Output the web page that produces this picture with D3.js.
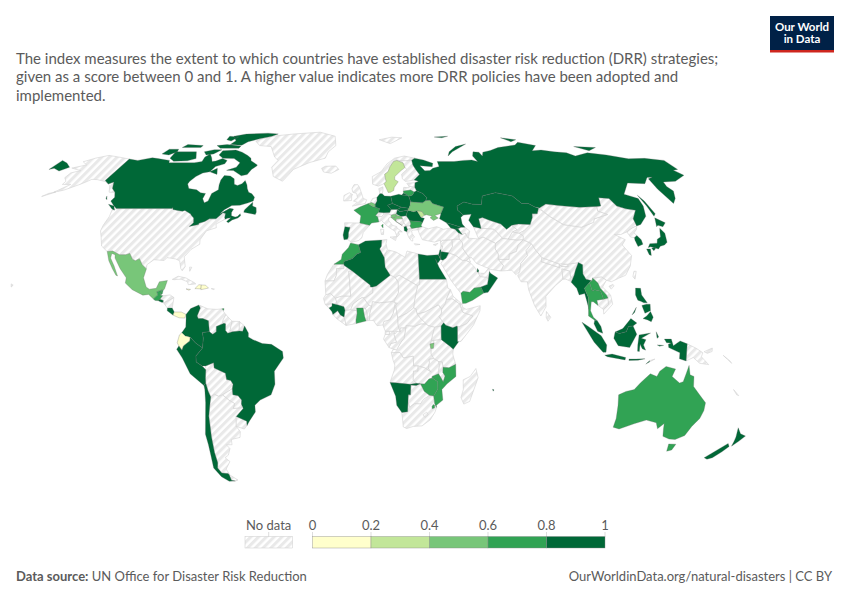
<!DOCTYPE html>
<html>
<head>
<meta charset="utf-8">
<script src="https://cdn.jsdelivr.net/npm/d3@7"></script>
<style>
  html, body { margin: 0; padding: 0; background: #fff; }
  svg { display: block; font-family: Lato, sans-serif; }
</style>
</head>
<body>
<div id="chart"></div>
<script>
const titleLines = [
  'The index measures the extent to which countries have established disaster risk reduction (DRR) strategies;',
  'given as a score between 0 and 1. A higher value indicates more DRR policies have been adopted and',
  'implemented.'
];
const binEdges = [0.2, 0.4, 0.6, 0.8];
const binColors = ['#ffffcc', '#c2e699', '#78c679', '#31a354', '#006837'];
const legendTicks = [0, 0.2, 0.4, 0.6, 0.8, 1];

// scores, read off the colour bins of the map. anything not listed is "No data"
const countryScores = [
  ['Canada', 0.9], ['Mexico', 0.5], ['Guatemala', 0.7], ['Belize', 0.7], ['El Salvador', 0.9], ['Costa Rica', 0.9],
  ['Panama', 0.1], ['Jamaica', 0.1], ['Haiti', 0.1], ['Dominican Republic', 0.1], ['Trinidad', 0.7],
  ['Colombia', 0.9], ['Ecuador', 0.1], ['Peru', 0.9], ['Brazil', 0.9], ['Chile', 0.9],
  ['Sweden', 0.3], ['France', 0.7], ['Belgium', 0.5], ['Portugal', 0.9], ['Germany', 0.9], ['Poland', 0.9],
  ['Czechia', 0.9], ['Slovakia', 0.9], ['Hungary', 0.9], ['Slovenia', 0.5], ['Croatia', 0.5], ['Romania', 0.9],
  ['Bulgaria', 0.7], ['Albania', 0.9], ['Moldova', 0.3], ['Ukraine', 0.5], ['Belarus', 0.9], ['Lithuania', 0.7],
  ['Russia', 0.9], ['Kazakhstan', 0.9], ['Georgia', 0.9], ['Armenia', 0.9],
  ['Morocco', 0.7], ['Algeria', 0.9], ['Egypt', 0.9], ['Guinea', 0.9], ['Ghana', 0.7], ['Kenya', 0.9],
  ['Burundi', 0.5], ['Namibia', 0.9], ['Zimbabwe', 0.7], ['Mozambique', 0.7], ['Eswatini', 0.7], ['Mauritius', 0.9],
  ['Jordan', 0.9], ['Israel', 0.9], ['Qatar', 0.9], ['Oman', 0.9], ['Yemen', 0.7],
  ['South Korea', 0.9], ['Japan', 0.9], ['Myanmar', 0.9], ['Thailand', 0.7], ['Laos', 0.7], ['Malaysia', 0.9], ['Indonesia', 0.9],
  ['Philippines', 0.9], ['Australia', 0.7], ['New Zealand', 0.9]
];

// rough country outlines as "lon,lat lon,lat ..." rings
const countryOutlines = [
  ['Canada',
    '-123,49 -115,49 -105,49 -95.2,49 -95.15,49.4 -94.6,48.7 -92,48.3 -89.5,48 -88.4,48.3 -84.8,46.9 -84.1,46.3 -82.5,45.3 -81.7,43.5 -82.5,42.6 -83.1,42.1 -79,42.8 -79,43.3 -76.5,44 -74.7,45 -71.5,45 -70.3,46.2 -69.2,47.4 -67.8,47.1 -67.5,45.5 -67,44.9 -66,45.2 -64.5,45.4 -66,44 -65,43.5 -63.5,44.6 -61,45.3 -60,46.2 -60.5,47 -61.5,45.9 -62.5,45.7 -64.5,46.2 -65,47.5 -64.5,48.8 -66.5,49.1 -70.5,47 -69,48.6 -67,49.6 -66,50.2 -62,50.3 -58.5,51.2 -56,52 -56,53.5 -58,54.9 -60,55.5 -61.5,57 -62.5,58.5 -64.5,60.3 -65.5,59 -67.5,58.3 -69.5,58.8 -71,61 -74,62.2 -77.5,62.4 -78,60.5 -77.5,58.5 -76.5,56.5 -79,55 -79,52 -80.5,51.3 -82.3,52.9 -82.2,55 -85,55.3 -88,56.5 -92.5,57 -94.7,58.9 -94.5,60 -93,62 -90.5,63.5 -87,64 -85.8,66.3 -81.5,67.5 -81.5,69 -85,69.8 -88,68.7 -90,68.5 -92,70.2 -95,72 -96.5,70.5 -96,68.5 -100,68 -108,68 -115,68 -116,69 -124,69.8 -128,70.2 -135,69 -141,69.6 -141,60.3 -137.5,58.9 -135.5,59.7 -133,57 -130,55.5 -128,53.5 -128.5,52 -125,50',
    '-62,66.5 -64,65 -65,62.8 -68,62.3 -72,63.8 -74,64.5 -78,64.6 -73.5,66 -73,68 -78,69.8 -85,70 -89,71.5 -89,73.5 -81,73.8 -76,72.8 -71,71.2 -68,70 -67,68.8 -62,67',
    '-105,73 -118,73 -117,70 -113,68.6 -105,68.8 -101,69.8',
    '-125,72 -120,71.5 -117,73 -118,74.2 -124,74.2',
    '-62,82.5 -70,83 -85,82.4 -92,81 -87,78.5 -88,76.5 -80,76.2 -78,78 -72,79.5 -65,81',
    '-80,75.8 -90,76.5 -96,76 -92,74.7 -80,74.7',
    '-90,73.9 -95,74 -100,73 -97,71.5 -93,72',
    '-105,76 -116,76.5 -117,75 -105,75',
    '-88,80.5 -95,81 -94,79 -90,78.3',
    '-59,47.6 -53,46.7 -52.8,47.6 -53.5,49.4 -55.5,50 -56,51.5 -57.5,50 -59,48.5',
    '-128.4,50.7 -125,50 -123.4,48.4 -125,48.8',
    '-84,65.5 -87,64 -82,62.9',
    '-132.5,54 -131,52.5 -132,53'],
  ['United States',
    '-123,49 -124.7,48.4 -124,46 -124.5,42.5 -124.3,40.4 -122.5,37.8 -120.6,34.6 -117.1,32.5 -114.7,32.7 -111,31.3 -108.2,31.3 -106.5,31.8 -104.5,29.6 -103,29 -101.4,29.8 -99.5,27.5 -97.2,25.9 -97.4,27.5 -94.7,29.4 -90,29.1 -89,30.2 -85,29.7 -83,29 -81.8,26 -81,25.2 -80,26.8 -81.3,30.5 -79,33.3 -75.6,35.3 -76,37 -74.2,40.4 -70,41.6 -70.7,43 -67,44.9 -67.5,45.5 -67.8,47.1 -69.2,47.4 -70.3,46.2 -71.5,45 -74.7,45 -76.5,44 -79,43.3 -79,42.8 -83.1,42.1 -82.5,42.6 -81.7,43.5 -82.5,45.3 -84.1,46.3 -84.8,46.9 -88.4,48.3 -89.5,48 -92,48.3 -94.6,48.7 -95.15,49.4 -95.2,49 -105,49 -115,49',
    '-141,69.6 -148,70.4 -156.5,71.3 -162,70 -166.5,68.4 -162,67 -164,66.5 -168,65.6 -161,64.5 -165,63.5 -165,61.5 -162,60 -162,58.7 -157.5,58.7 -162,55.5 -158,56.3 -153,58.5 -151,59.5 -149,60.8 -146,60.7 -140,59.8 -136,58.3 -133,55.5 -130,55.5 -133,57 -135.5,59.7 -137.5,58.9 -141,60.3',
    '-161,55.6 -166,53.8 -164,55',
    '-156,20.2 -155,19.7 -155.7,19'],
  ['Mexico',
    '-117.1,32.5 -114.7,32.7 -111,31.3 -108.2,31.3 -106.5,31.8 -104.5,29.6 -103,29 -101.4,29.8 -99.5,27.5 -97.2,25.9 -97.8,22.5 -96,19 -94.5,18.2 -91.5,18.5 -90.5,21 -87,21.5 -87.8,18.3 -88.3,17.8 -89.15,17.8 -91,17.2 -90.5,16 -92.2,14.5 -94.5,16.2 -97,15.9 -102,18 -105.5,20.5 -105.5,22.5 -109,26 -112.5,30 -113,31.3 -114.7,31.8 -114.5,30 -112,27 -109.5,23.2 -110.3,23.5 -112.5,26 -115,29'],
  ['Guatemala', '-92.2,14.5 -90.5,16 -91,17.2 -89.15,17.8 -89.2,15.9 -88.2,15.7 -89.3,14.4 -90,13.8 -91.4,13.9'],
  ['Belize', '-88.3,17.8 -89.15,17.8 -89.2,15.9 -88.5,16.5'],
  ['El Salvador', '-90,13.8 -89.3,14.4 -87.8,13.9 -87.8,13.2 -88.5,13.2'],
  ['Honduras', '-89.2,15.9 -88.2,15.7 -85,16 -83.2,15 -85,14 -87.3,13 -87.8,13.2 -87.8,13.9 -89.3,14.4'],
  ['Nicaragua', '-83.2,15 -83.6,11 -85.7,11 -87.6,13 -87.3,13 -85,14'],
  ['Costa Rica', '-83.6,11 -82.6,9.5 -83,8.3 -85.7,10 -85.7,11'],
  ['Panama', '-82.6,9.5 -79.5,9.5 -77.4,8.6 -77.9,7.2 -80.4,7.3 -83,8.3'],
  ['Cuba', '-84.9,21.9 -82.5,23.1 -79,22.5 -75,20.7 -74.2,20.2 -77.5,19.9 -78,21 -81,22 -84,21.8'],
  ['Haiti', '-74.4,18.4 -72.8,19.9 -71.7,19.8 -71.7,18.3'],
  ['Dominican Republic', '-71.7,19.8 -69.8,19.7 -68.4,18.6 -71.7,18'],
  ['Jamaica', '-78.3,18.3 -76.3,18.1 -77,17.8'],
  ['Puerto Rico', '-67.2,18.4 -65.7,18.3 -66,18'],
  ['Bahamas', '-78,26.6 -77,26.5 -77.6,25'],
  ['Trinidad', '-61.9,10.7 -60.9,10.8 -61,10.1'],
  ['Greenland', '-73,78.2 -68,76 -60,75.5 -54,70.5 -51,69 -53,66 -50,62 -44,60 -42,62.5 -40,65 -32,68 -23,70 -22,73 -18,76 -20,81 -32,83.6 -50,82.5 -65,81 -72,79'],
  ['Colombia', '-77.4,8.6 -75.5,10.8 -72,12.2 -71.3,11 -72.5,8 -72,7 -70,7 -67.5,6.2 -67,2 -70,1.7 -69.6,-0.5 -70,-4.2 -73,-2.3 -75.3,-0.1 -77.5,0.4 -79,1.6 -77.3,3.8 -77.3,7'],
  ['Venezuela', '-71.3,11 -71.5,12 -68,10.7 -64,10.5 -62,10.7 -60,8.5 -61,6.8 -61.3,5.5 -60.7,5.2 -64,4 -64,2 -65.5,1 -67,2 -67.5,6.2 -70,7 -72,7 -72.5,8'],
  ['Guyana', '-60,8.5 -57.2,6 -58,2.5 -57,2 -59,1.4 -60,2.5 -60,5 -60.7,5.2 -61.3,5.5 -61,6.8'],
  ['Suriname', '-57.2,6 -54,5.9 -54,2.3 -57,2 -58,2.5'],
  ['French Guiana', '-54,5.9 -51.7,4.2 -52.5,2.2 -54,2.3'],
  ['Ecuador', '-80.3,-3.4 -81,-2.2 -80,0.8 -79,1.6 -77.5,0.4 -75.3,-0.1 -75.5,-1.5 -78.3,-3.4 -79,-5'],
  ['Peru', '-81.3,-4.7 -80.3,-3.4 -79,-5 -78.3,-3.4 -75.5,-1.5 -75.3,-0.1 -73,-2.3 -70,-4.2 -73,-7.2 -73,-9.5 -70.5,-11 -69,-12.5 -69.4,-15.5 -69.5,-17.5 -70.4,-18.4 -76,-14 -79,-8'],
  ['Brazil', '-51.7,4.2 -50,1.5 -50,0 -48,-1 -44,-2.5 -40,-2.8 -35.2,-5.5 -34.9,-8 -39,-13 -39,-18 -41,-22 -46,-24 -48.6,-26 -48.7,-28.5 -52,-32 -53.4,-33.7 -53.2,-32 -57.6,-30.2 -54,-27.2 -54.6,-25.5 -54.3,-24 -55.7,-22.3 -58,-22 -58,-19.7 -57.5,-18 -58.4,-16.5 -60.2,-16.2 -60.5,-13.8 -65.3,-11.8 -65.4,-9.8 -69,-11 -70.5,-11 -73,-9.5 -73,-7.2 -70,-4.2 -69.6,-0.5 -70,1.7 -67,2 -65.5,1 -64,2 -64,4 -60.7,5.2 -60,5 -60,2.5 -59,1.4 -57,2 -54,2.3 -52.5,2.2'],
  ['Bolivia', '-69,-11 -65.4,-9.8 -65.3,-11.8 -60.5,-13.8 -60.2,-16.2 -58.4,-16.5 -57.5,-18 -58,-19.7 -62.6,-22 -64.3,-22.6 -66.2,-21.8 -67.9,-22.8 -68.8,-20.5 -69.5,-17.5 -69.4,-15.5 -69,-12.5'],
  ['Paraguay', '-58,-19.7 -58,-22 -55.7,-22.3 -54.3,-24 -54.6,-25.5 -54.7,-27 -58.5,-27.2 -57.6,-25.3 -60,-24 -62.6,-22'],
  ['Chile',
    '-70.4,-18.4 -69.5,-17.5 -68.8,-20.5 -67.9,-22.8 -68.5,-25 -70,-30 -70.3,-33 -71,-38 -71.8,-44 -72,-48 -73,-50 -72,-52 -69,-52.2 -68.6,-52.6 -68.6,-54.9 -66.8,-55.2 -70,-55.3 -73,-53.5 -75,-50 -74,-45 -73.5,-41 -73.5,-37 -71.5,-30 -70.5,-25 -70.2,-20'],
  ['Argentina',
    '-66.2,-21.8 -64.3,-22.6 -62.6,-22 -60,-24 -57.6,-25.3 -58.5,-27.2 -54.7,-27 -54,-27.2 -57.6,-30.2 -58.4,-34 -57,-36 -57.7,-38.2 -62,-39 -62.3,-41 -65,-41 -63.8,-42.5 -65.5,-45 -67.5,-46 -65.8,-47.5 -69,-50.5 -68.4,-52.3 -69,-52.2 -72,-52 -73,-50 -72,-48 -71.8,-44 -71,-38 -70.3,-33 -70,-30 -68.5,-25 -67.9,-22.8',
    '-68.6,-52.6 -65.2,-54.8 -66.8,-55.2 -68.6,-54.9'],
  ['Uruguay', '-57.6,-30.2 -53.2,-32 -53.4,-33.7 -54.9,-35 -58.4,-34'],

  ['Iceland', '-24,65.5 -22,66.4 -16,66.5 -14,65 -18,63.4 -22.5,63.9'],
  ['Svalbard', '11,79 20,80.4 27,80 18,77'],
  ['Norway', '5,58.8 5,62 10,64 14,67.5 19,70 25,71 31,70 29,69.1 25,68.8 21,69 20,69 18,68.5 15.5,66.2 14,64 12,63 12.2,61 12.5,60 11.2,59 8,58'],
  ['Sweden', '11.2,59 12.5,60 12.2,61 12,63 14,64 15.5,66.2 18,68.5 20,69 23.5,67.9 24,65.8 21.5,64.5 17.5,62 17.2,60.7 19,59.8 16.5,57.5 16,56.2 14.3,55.5 13,55.4 12.5,56.5'],
  ['Finland', '24,65.8 23.5,67.9 20,69 21,69 25,68.8 29,69.1 29,67 30,65 31.5,62.9 27.8,60.5 23,59.9 21.5,61 21.5,63 25,65'],
  ['Denmark', '8.2,57 10.5,57.7 10.3,56 9.8,54.9 8.6,54.9'],
  ['United Kingdom', '-5,58.6 -3,58.6 -2,57.5 0,53 1.7,52.5 1,51 -5.5,50 -3,51.5 -5,52 -3,53.4 -3.5,55 -5.5,55.5 -6,57'],
  ['Ireland', '-10,52 -6,52.2 -6,54 -5.6,54.6 -7.3,55.3 -10,54.2'],
  ['France', '2.5,51 -1.5,49.7 -4.7,48.4 -1.2,46.2 -1.7,43.4 3,42.5 4,43.4 7.5,43.8 7,45.8 6,46.3 7.5,47.6 8.2,49 6,49.5 4.2,50', '8.6,42.4 9.5,43 9.4,41.5'],
  ['Spain', '-9,43.5 -1.7,43.4 3,42.5 0,39.8 -0.7,37.7 -2.2,36.7 -5.5,36 -7.4,37.2 -7,38 -7,39.7 -6.3,41.7 -8.8,42'],
  ['Portugal', '-8.8,42 -6.3,41.7 -7,39.7 -7,38 -7.4,37.2 -9,37 -9.5,38.8'],
  ['Belgium', '2.5,51 4.2,51.4 6,50.7 6,49.5 4.2,50'],
  ['Netherlands', '3.5,51.4 4.8,53 7,53.4 7,52 6,50.7 4.2,51.4'],
  ['Germany', '6,50.7 7,52 7,53.4 8.6,54.9 9.8,54.9 11,54 14.2,53.9 14.7,51 12.2,50.3 13.8,48.7 13,47.5 10,47.4 7.5,47.6 8.2,49 6,49.5'],
  ['Poland', '14.2,53.9 18.5,54.7 19.7,54.4 23,54.3 23.5,53.9 24,52 23.5,50.3 22.7,49.1 19,49.5 14.7,51'],
  ['Czechia', '12.2,50.3 14.7,51 19,49.5 17,48.7 13.8,48.7'],
  ['Slovakia', '17,48.7 19,49.5 22.7,49.1 22,48.4 18,47.8'],
  ['Austria', '10,47.4 13,47.5 13.8,48.7 17,48.7 16.2,46.9 13.7,46.5 12,47'],
  ['Hungary', '16.2,46.9 17,48.7 18,47.8 22,48.4 21,46.2 19,46 18.5,45.9'],
  ['Switzerland', '6,46.3 7,45.8 9,45.9 10,46.8 10,47.4 7.5,47.6'],
  ['Italy', '7.5,43.8 8.8,44.4 10.5,42.9 12.3,41.7 15,40.2 15.8,38 17,39 16.5,40 18.4,40 16,41.5 16,42 14,42.5 12.3,44.3 12.3,45.3 13.6,45.6 13.7,46.5 12,47 10,46.8 9,45.9 7,45.8', '12.5,38 15.6,38.2 15,36.7', '8.2,41 9.7,41 9.5,39 8.5,39'],
  ['Slovenia', '13.7,46.5 16.2,46.9 16.2,46.4 15.5,45.5 13.6,45.5'],
  ['Croatia', '13.6,45.5 15.5,45.5 16.2,46.4 18.5,45.9 19,45 16,45 15.7,44 18.5,42.5 15,44.5'],
  ['Bosnia', '16,45 19,45 19.5,43.5 18.5,42.5 15.7,44'],
  ['Serbia', '19,46 21,46.2 22.5,44.3 22.8,43 22.3,42.3 20.5,42.2 19.5,43.5 19,45'],
  ['Montenegro', '18.5,42.5 19.5,43.5 20.5,42.2 19.4,41.9'],
  ['Albania', '19.4,41.9 20.5,42.2 20.9,41 20.6,40 19.4,40.4'],
  ['North Macedonia', '20.5,42.2 22.3,42.3 23,41.3 20.9,41'],
  ['Greece', '20.9,41 23,41.3 26.3,41.7 26,40.8 23.8,40.7 22.8,40.4 23,39.3 24,38 23,37.5 23,36.5 22.3,36.6 21.3,37.8 20.6,39.5 20.6,40', '23.6,35.5 26.2,35.2 24,35'],
  ['Bulgaria', '22.5,44.3 27,44 28.6,43.7 27.7,42.5 28,42 26.3,41.7 23,41.3 22.3,42.3 22.8,43'],
  ['Romania', '22,48.4 24.9,47.8 26.6,48.2 28.2,45.5 29.7,45.2 28.6,43.7 27,44 22.5,44.3 21,46.2'],
  ['Moldova', '26.6,48.2 29,47.9 30,46.4 28.2,45.5'],
  ['Ukraine', '22.7,49.1 23.5,50.3 24,51.7 30,51.3 31.8,52.2 34,52.3 35,51 40.2,49.6 38.2,47.1 35,46.3 36.5,45.3 34,44.4 32.5,45.4 33.6,46 31,46.6 30,46.4 29,47.9 26.6,48.2 24.9,47.8 22,48.4'],
  ['Belarus', '24,52 24,51.7 30,51.3 31.8,52.2 32.7,53.3 31,55 28,56.1 26.6,55.6 25.5,54.4 23.5,53.9'],
  ['Lithuania', '21,55.3 21,56 25,56.4 26.6,55.6 25.5,54.4 23.5,53.9 23,54.3 22.7,54.4'],
  ['Latvia', '21,56 21.5,57.5 24.4,57.3 24.4,58 27.4,57.5 28,56.1 26.6,55.6 25,56.4'],
  ['Estonia', '23.5,59.2 28,59.4 27.4,57.5 24.4,58'],
  ['Russia',
    '31,70 36,69.2 41,67.7 40,66.2 35,66.5 33,66.6 35,64.4 38,64.5 40,65.5 44,66.3 44,68.5 54,68.5 60,69 65,69.2 68,68.5 67,71 69,73 72.5,72.8 73,71 75,72.8 80.5,73.6 87,75 100,76.3 104,77.7 113,76 107,73.5 113,73.8 120,73 127,72.5 130,71 140,72.5 150,71.5 160,69.7 170,69.9 180,69 180,65 177,64.7 179,62.5 170,60 163,59.7 162,57.8 163,56 160,53 156.7,51 155.7,56.8 156.8,61 160,61.7 157,61.6 152,59 143,59.3 135.5,54.7 141,53 140.3,50 138,46 133,42.8 130.7,42.3 131,45 135,48.4 130.7,48.9 127,50 126,53 121,53.3 119,50 116.7,49.8 108,49.5 98,50.2 92,50.8 87.8,49.2 85.5,49.7 83.4,51 80,51 77,54 71,55 69,55.3 61.5,54 59.5,50.6 55,50.7 51,51.6 47,50 46.8,48.4 49,46.5 47.5,45.5 47.5,43 48.5,41.8 46.5,41.8 43.5,42.6 40,43.5 37,45 38.2,47.1 40.2,49.6 35,51 34,52.3 31.8,52.2 32.7,53.3 31,55 28,56.1 27.4,57.5 28,59.4 30,60 27.8,60.5 31.5,62.9 30,65 29,67 29,69.1',
    '20,54.4 22.7,54.4 21,55.2',
    '142,54.3 143,52 143.5,47 142,46 142,50',
    '52,71 56,73 68,76.8 60,75.5 54,73',
    '50,80.5 60,81 55,80',
    '96,80 105,79 100,78',
    '137,75.5 150,75 143,73.5',
    '-180,69 -175,67.8 -170,66 -173,64.3 -178,65.5 -180,65'],
  ['Kazakhstan', '47,50 51,51.6 55,50.7 59.5,50.6 61.5,54 69,55.3 71,55 77,54 80,51 83.4,51 85.5,49.7 87.3,49.1 85.5,47 83,47 82.3,45.5 80,42.8 74.5,43 71,42.5 68,41 66,43 61,44.5 58,45.5 56,45 56,41.3 52.5,42 51,44.5 53,46.8 49,46.5 46.8,48.4'],
  ['Uzbekistan', '56,45 58,45.5 61,44.5 66,43 68,41 71,42.5 73,40.8 70.5,40 67.5,37.2 65,37.5 62,41 57,41.3 56,41.3'],
  ['Turkmenistan', '52.5,42 56,41.3 57,41.3 62,41 65,37.5 61.2,35.6 56,38 53.8,37.3 53,40'],
  ['Tajikistan', '67.5,37.2 70.5,40 73.5,39.5 75,38.5 74.5,37 71.5,36.8'],
  ['Kyrgyzstan', '71,42.5 74.5,43 80,42.8 76,40.4 73.5,39.5 70.5,40 73,40.8'],
  ['Afghanistan', '61.2,35.6 65,37.5 67.5,37.2 71.5,36.8 74.5,37 71.5,35 70,32.5 66.5,31.5 66,29.5 61,29.5 61.5,31.5 60.5,33.5'],
  ['Pakistan', '61,29.5 66,29.5 66.5,31.5 70,32.5 71.5,35 74.5,37 77.8,35.5 74.5,32.8 74.7,31 71,28 70,25 68,23.7 66.5,25.4 61.6,25.1 63,27.2'],
  ['India', '77.8,35.5 79,33 81,30.2 80.3,28.7 88,26.4 88.2,27.8 89,26.8 92,26.8 92,27.7 97,28.3 95,25.5 94,23.5 93,22 92.2,23.7 92.3,25 89,25.9 88.8,22 85,19.5 80.3,15.5 80,11.5 77.5,8 75,12 73,18 72.8,21 70,21 68.8,23.3 70,25 71,28 74.7,31 74.5,32.8'],
  ['Nepal', '80.3,28.7 81,30.2 88.2,27.8 88,26.4'],
  ['Bhutan', '88.8,27.4 92,27.7 92,26.8 89,26.8'],
  ['Bangladesh', '89,25.9 92.3,25 92.2,23.7 92.5,21 90,22 88.8,22'],
  ['Sri Lanka', '80,9.7 81.8,7.5 80.5,6 79.8,7.5'],
  ['China', '74.5,37 75,38.5 73.5,39.5 76,40.4 80,42.8 82.3,45.5 83,47 85.5,47 87.3,49.1 91,46 96,42.8 104,41.8 111,43.7 112,45 119.8,46.7 116,48 116.7,49.8 119,50 121,53.3 126,53 127,50 130.7,48.9 135,48.4 131,45 130.7,42.3 128,41.5 124.4,40 121,39 118,39 122,37 119.5,35 122,31 120,27 117,23.5 113.5,22.3 110,21 108,21.6 106,22.8 102,22.4 101.5,21.2 99,22 98,24 98.7,27.5 97,28.3 92,27.7 88.2,27.8 81,30.2 79,33 77.8,35.5', '108.7,19.3 110.5,20 111,19.5 109.5,18.2'],
  ['Taiwan', '121,25 122,25 120.8,22 120.1,23'],
  ['Mongolia', '87.8,49.2 92,50.8 98,50.2 108,49.5 116.7,49.8 116,48 119.8,46.7 112,45 111,43.7 104,41.8 96,42.8 91,46'],
  ['North Korea', '124.4,40 128,41.5 130.7,42.3 129.7,41 127.5,39.6 128.3,38.6 126.7,37.8 125,38'],
  ['South Korea', '126.7,37.8 128.3,38.6 129.4,37 129.2,35.3 126.5,34.4 126.4,36.8'],
  ['Japan',
    '141,41.4 142,39.5 140.8,36 139,35 136.8,34.5 135.5,33.5 132.3,34.3 131,34 132.5,35.5 136,35.7 137,37.2 139,38 140,40',
    '130,33.5 131.8,33.5 131,31 130.2,31.3',
    '132.5,33.8 134.5,34.2 134,33.5 133,32.8',
    '140,42 141.8,45.4 145.3,43.5 143,42 141,42.5'],
  ['Myanmar', '92.2,20.8 93,22 94,23.5 95,25.5 97,28.3 98.7,27.5 98,24 99,22 101.2,21.5 100,20.4 97.7,18.5 98.9,15 98.6,11.8 98.8,10 97.9,14.5 97.5,16.5 95,16 94.3,18.5'],
  ['Thailand', '97.7,18.5 100,20.4 100.5,20 101,17.5 102.2,18 104.7,17.4 105.5,14.4 102.5,14 102.8,12 100.9,13.4 100,13.4 99.3,10 100.4,7.5 102,6.2 100.9,6.4 98.3,8 98.6,11.8 98.9,15'],
  ['Laos', '101.2,21.5 101.5,21.2 102,22.4 104,20.5 104.7,18.5 107,16 107.5,14.8 105.5,14.4 104.7,17.4 102.2,18 101,17.5 100.5,20 100,20.4'],
  ['Cambodia', '102.5,14 105.5,14.4 107.5,14.8 107.5,12.3 105,10.5 102.8,12'],
  ['Vietnam', '102,22.4 106,22.8 108,21.6 105.8,19 108.8,16 109.3,12.5 107,10.5 105,8.7 105,10.5 107.5,12.3 107.5,14.8 107,16 104.7,18.5 104,20.5'],
  ['Malaysia', '100.9,6.4 102,6.2 103.5,4 104.2,1.4 102,2.2 100.5,5', '109.6,1.9 113,3.2 116.7,7 119.2,5.3 117.5,4.2 115.5,4 114.5,2 111.5,1.3'],
  ['Indonesia',
    '109.6,1.9 111.5,1.3 114.5,2 115.5,4 117.5,4.2 119,1 116,-4 111,-3.3 109,-0.5',
    '95.3,5.6 98,4 103.5,0.5 106,-3 105.8,-5.8 104.5,-5.8 100.5,-2 97,3',
    '105.3,-6.9 108.5,-6.5 114.5,-7.8 114.3,-8.7 106.5,-7.5',
    '119.5,-3 120,0.8 125,1.5 121,-0.5 123,-1 122,-3 123,-5 121.5,-4.5 120.5,-2.8 120.3,-5.5 119.5,-5.4',
    '127.5,2 128.5,0 127.8,-0.5',
    '128,-3 130.8,-3.2 129,-3.5',
    '116,-8.4 119,-8.4 123,-8.3 120,-8.8 116,-8.9',
    '123.5,-10.3 125,-9 125,-9.5',
    '131,-0.8 134,-0.8 135,-3.3 137.9,-1.5 141,-2.6 141,-9.1 138,-8.3 138,-6 133,-4 132.8,-2.8 134,-2.3 132,-2.2'],
  ['Timor-Leste', '125,-9 127.3,-8.4 125,-9.5'],
  ['Papua New Guinea', '141,-2.6 145,-4.3 148,-6 147.5,-7.5 151,-10.5 147,-10 144,-7.8 141,-9.1', '148.5,-5.6 152,-4.2 152,-5.5 150,-6.2'],
  ['Solomon Islands', '157,-7 160,-9 161,-10 159,-8.5'],
  ['New Caledonia', '164,-20 167,-22.3 166,-22'],
  ['Philippines',
    '120.3,18.6 122.5,18.5 122.5,16 124.5,13 123,13 121.7,13.6 120.5,14 119.8,16',
    '122,7 123.7,8 125.5,9.7 126.5,7.5 125.5,5.8 124,6.5',
    '122,12 124,12.5 125.7,12.5 125.5,10 123,9',
    '117.3,8.4 119.5,11.3 118.5,9.3'],
  ['Australia',
    '113.5,-22 114.2,-26 115,-31 115,-34.3 118,-35 124,-33 129,-31.6 134,-32.6 135.7,-34.9 137.8,-32.9 138.5,-35 140,-37.8 143.5,-38.8 146.5,-39 150,-37.5 151,-34 153,-31 153.5,-28 153,-25 149.5,-22 146,-18.8 145.3,-15 143.5,-14.4 142.5,-10.8 141.7,-14 141,-17 139.5,-17.5 135.7,-15 136.8,-12.2 132.5,-11.2 130,-13 129,-15 126,-14 122.2,-17.5 120,-20 116.5,-20.7',
    '144.7,-40.7 148.2,-40.8 148,-43 146,-43.5'],
  ['New Zealand',
    '172.7,-34.5 175.5,-36.8 178.5,-37.7 177,-39.6 175.3,-41.6 174.8,-39.8 174.3,-38',
    '172.7,-40.5 174.3,-41.7 172.8,-43.7 170.5,-46 168.5,-46.6 166.5,-46 169,-43.8'],

  ['Morocco', '-5.9,35.8 -2.2,35.1 -1.2,32.1 -3,31.5 -5,29.8 -8.7,28.7 -8.7,27.7 -13.2,27.7 -10,29.5 -9.6,31.5 -6.8,34'],
  ['Western Sahara', '-13.2,27.7 -8.7,27.7 -8.7,26 -12,26 -12,23.4 -13,21.3 -17,21.3 -16,23.8 -14.5,26'],
  ['Algeria', '-2.2,35.1 1,36.5 8.6,36.9 8.3,34.5 7.5,33.5 9.5,30.2 9.8,26.5 12,23.5 5.8,19.4 4.2,19 3.2,19 3,19.8 -4.8,25 -8.7,27.3 -8.7,28.7 -5,29.8 -3,31.5 -1.2,32.1'],
  ['Tunisia', '8.6,36.9 11,37.1 10.5,35.5 11,33.3 10,31.5 9.5,30.2 7.5,33.5 8.3,34.5'],
  ['Libya', '9.5,30.2 10,31.5 11.5,33.1 15,32.3 19,30.3 20,32.7 25,31.6 25,20 24,19.5 16,23.5 14.2,22.6 12,23.5 9.8,26.5'],
  ['Egypt', '25,31.6 29,31 34.2,31.3 34.9,29.5 33.5,28 32.6,29.8 34,26.5 36.9,22 25,22'],
  ['Sudan', '25,22 36.9,22 37.4,18.5 38.5,18 36.5,14.3 36,12.7 34.3,10.5 32.9,12.2 27,9.5 23.5,8.7 23,10.7 22,11 22.5,14 23,16 24,19.5 25,20'],
  ['South Sudan', '23.5,8.7 27,9.5 32.9,12.2 34.3,10.5 34,8.5 33,7.8 35,5.4 33.9,4.2 31,3.7 28,4.4 27.4,5 25,7'],
  ['Ethiopia', '36.5,14.3 39,14.6 42.4,12.5 42.8,11 43.5,9.4 47.9,8 45,5 41.9,3.9 40.8,4.2 39,3.5 35.9,4.5 35,5.4 33,7.8 34,8.5 34.3,10.5 36,12.7'],
  ['Eritrea', '38.5,18 39.5,15.5 43,12.7 42.4,12.5 39,14.6 36.5,14.3'],
  ['Djibouti', '42.4,12.5 43.3,12.4 43.3,11 42.8,11'],
  ['Somalia', '42.8,11 43.3,11.4 45,10.5 51.2,11.9 51,10 48,4.5 42.5,-1.7 41,-1.7 41,3.9 41.9,3.9 45,5 47.9,8 43.5,9.4'],
  ['Kenya', '33.9,4.2 35,5.4 35.9,4.5 39,3.5 40.8,4.2 41,3.9 41,-1.7 41.5,-1.8 39.2,-4.7 37.7,-3.5 34,-1 33.9,0.1'],
  ['Uganda', '31,3.7 33.9,4.2 33.9,0.1 34,-1 29.6,-1.4 30,0.5'],
  ['Tanzania', '34,-1 37.7,-3.5 39.2,-4.7 39,-6.5 39.5,-8 40.4,-10.4 37.5,-11.7 34.9,-11.5 34.5,-9.5 33,-9.4 30.7,-8.2 29.5,-6.5 29.4,-4.4 30.5,-4.3 30.8,-2.3 30.5,-1.3'],
  ['Rwanda', '29,-1.5 30.5,-1.3 30.8,-2.3 29,-2.7'],
  ['Burundi', '29,-2.7 30.8,-2.3 30.5,-4.3 29.4,-4.4'],
  ['DR Congo', '12.2,-6 13.1,-4.6 14.5,-4.9 16.2,-2.2 17.7,-0.5 18.5,3.5 18.6,4.4 22.4,4.1 25,5 27.4,5 28,4.4 31,3.7 30,0.5 29.6,-1.4 29,-2.7 29.4,-4.4 29.5,-6.5 30.7,-8.2 28.7,-8.5 28.9,-9.8 28.4,-11.8 29.8,-13.4 27,-11.8 24,-11 22,-11 21.8,-7.3 17.5,-8 16,-5.9'],
  ['Congo', '11.2,-4 13.1,-4.6 14.5,-4.9 16.2,-2.2 17.7,-0.5 18.5,3.5 16.2,3.5 14,1.4 13.2,1.3 14.4,-2 12,-2.4'],
  ['Gabon', '9.5,1 11.3,1 11.3,2.2 13.2,2.2 14,1.4 13.2,1.3 14.4,-2 12,-2.4 11.2,-4 8.8,-0.8'],
  ['Equatorial Guinea', '9.6,2.2 11.3,2.2 11.3,1 9.5,1'],
  ['Cameroon', '8.5,4.6 9.6,2.2 13.2,2.2 16,2 15.2,4.5 15,7.5 14.2,12 15,12.9 14,13 13,9 11.5,6.5 9,6'],
  ['Nigeria', '2.7,6.3 4.4,6.3 6,4.3 8.5,4.6 9,6 11.5,6.5 13,9 14,13 13,13.5 10,13.3 7,13 4,13.5 3.6,11.7 2.8,9'],
  ['Benin', '1.6,6.2 2.7,6.3 2.8,9 3.6,11.7 2.4,12.2 0.9,11 1.6,9'],
  ['Togo', '1.2,6.1 1.6,6.2 1.6,9 0.9,11 -0.1,11 0.5,8'],
  ['Ghana', '-3.1,5.1 1.2,6.1 0.5,8 -0.1,11 -2.9,11 -2.7,9 -3.2,6.5'],
  ['Ivory Coast', '-7.5,4.4 -3.1,5.1 -3.2,6.5 -2.7,9 -2.9,10 -5.5,10.4 -8,10.2 -8.4,7.6'],
  ['Liberia', '-11.5,6.9 -7.5,4.4 -8.4,7.6 -10,8.4'],
  ['Sierra Leone', '-13.3,8.6 -11.5,6.9 -10,8.4 -11.2,10'],
  ['Guinea', '-15,11 -13.7,9.6 -13.3,8.6 -11.2,10 -10,8.4 -8.4,7.6 -8,10.2 -8.5,11.5 -11,12.2 -13.7,12.7 -13.7,11.7'],
  ['Guinea-Bissau', '-16.7,12.4 -13.7,12.7 -13.7,11.7 -15,11'],
  ['Senegal', '-17.5,14.7 -16.5,16.1 -14.5,16.6 -12.2,14.8 -11.4,12.4 -13.7,12.7 -16.7,12.4'],
  ['Mauritania', '-16.5,16.1 -17,21.3 -13,21.3 -12,23.4 -12,26 -8.7,26 -8.7,27.3 -4.8,25 -6.5,25 -5.5,15.5 -9.5,15.5 -12.2,14.8 -14.5,16.6'],
  ['Mali', '-12.2,14.8 -9.5,15.5 -5.5,15.5 -6.5,25 -4.8,25 3,19.8 3.2,19 4.2,19 4.2,16.8 1,15 -0.5,15 -2,14.2 -4.5,12.5 -5.5,10.4 -8,10.2 -8.5,11.5 -11,12.2 -11.4,12.4'],
  ['Burkina Faso', '-5.5,10.4 -2.9,10 -2.9,11 -0.1,11 0.9,11 2.4,12.2 0.2,14.8 -0.5,15 -2,14.2 -4.5,12.5'],
  ['Niger', '4.2,19 5.8,19.4 12,23.5 14.2,22.6 15.5,21 15.5,16.8 13.5,13.7 13,13.5 10,13.3 7,13 4,13.5 3.6,11.7 2.4,12.2 0.2,14.8 1,15 4.2,16.8'],
  ['Chad', '14.2,22.6 16,23.5 24,19.5 23,16 22.5,14 22,11 19,9 15.5,7.5 15,7.5 14.2,12 15,12.9 14,13 13.5,13.7 15.5,16.8 15.5,21'],
  ['Central African Republic', '15,7.5 15.5,7.5 19,9 22,11 23,10.7 23.5,8.7 25,7 27.4,5 25,5 22.4,4.1 18.6,4.4 18.5,3.5 16.2,3.5 16,2 15.2,4.5'],
  ['Angola', '12.2,-6 16,-5.9 17.5,-8 21.8,-7.3 22,-11 24,-11 24,-13 22,-13 22,-16.2 23.4,-17.6 20.8,-18 14,-17.4 11.8,-17.3 13.6,-12.5 13.8,-10.7 13,-8.8'],
  ['Zambia', '22,-13 24,-13 24,-11 27,-11.8 29.8,-13.4 28.4,-11.8 28.9,-9.8 28.7,-8.5 30.7,-8.2 33,-9.4 33.3,-10.8 33,-14 30.2,-15 30.3,-15.6 28.9,-16 27,-17.9 25.2,-17.8 23.4,-17.6 22,-16.2'],
  ['Malawi', '33,-9.4 34.5,-9.5 34.9,-11.5 34.9,-13.5 35.9,-14.8 35.2,-17 34.3,-15.7 33,-14 33.3,-10.8'],
  ['Mozambique', '34.9,-11.5 37.5,-11.7 40.4,-10.4 40.7,-15 37,-17.8 34.8,-20 35.5,-24 32.8,-26 32.9,-26.8 32,-25.5 31.3,-22.4 33,-19.8 32.8,-17 30.3,-15.6 30.2,-15 33,-14 34.3,-15.7 35.2,-17 35.9,-14.8 34.9,-13.5'],
  ['Zimbabwe', '25.2,-17.8 27,-17.9 28.9,-16 30.3,-15.6 32.8,-17 33,-19.8 31.3,-22.4 29.4,-22.2 27,-20.6 26,-19'],
  ['Namibia', '11.8,-17.3 14,-17.4 20.8,-18 23.4,-17.6 25.2,-17.8 23.4,-18.4 21,-18.3 21,-22 20,-22 20,-28.4 17.4,-28.7 15,-26 14.4,-22.5'],
  ['Botswana', '21,-18.3 23.4,-18.4 25.2,-17.8 26,-19 27,-20.6 29.4,-22.2 27,-23.7 25.5,-25.5 23,-25.3 20.8,-26.8 20,-24.8 20,-22 21,-22'],
  ['South Africa', '17.4,-28.7 20,-28.4 20,-24.8 20.8,-26.8 23,-25.3 25.5,-25.5 27,-23.7 29.4,-22.2 31.3,-22.4 32,-25.5 32.9,-26.8 32.4,-28.5 30.5,-31.5 27,-33.8 23,-34 20,-34.8 18.4,-34.2 18,-32'],
  ['Lesotho', '27,-29.6 28.6,-28.6 29.4,-29.6 28,-30.6'],
  ['Eswatini', '31.3,-25.7 32,-26 32,-27 31,-27.3 30.8,-26.5'],
  ['Madagascar', '49.3,-12 50.5,-15.5 47.5,-24.5 45,-25.5 43.5,-23 44.3,-20 44,-16.3 47,-15'],
  ['Mauritius', '57.2,-19.9 57.9,-20.1 57.6,-20.6'],

  ['Saudi Arabia', '36,29.2 37.5,30 39,32 42,31.1 44.7,29.2 46.5,29.1 48,28.5 50,26.5 50.8,24.8 51.5,24.3 52,23 55.2,22.7 55.6,22 55,20 52,19 49,18.6 47,17 44,17.4 43,16.6 41,19 39,21.5 37.2,24.5 35,28'],
  ['Yemen', '43,16.6 44,17.4 47,17 49,18.6 52,19 53.1,16.7 48,14 45,12.8 43.5,12.7'],
  ['Oman', '52,19 55,20 55.6,22 56.4,24.9 56.8,24.2 59.8,22.4 58,20.4 55,17 53.1,16.7'],
  ['United Arab Emirates', '51.5,24.3 54,24.2 56.3,26.2 56.4,24.9 55.6,22 55.2,22.7 52,23'],
  ['Qatar', '50.8,24.8 51.2,26.1 51.6,25.4 51.5,24.6'],
  ['Kuwait', '46.5,29.1 47.7,30 48.4,28.6 48,28.5'],
  ['Iraq', '39,32 41,34.4 41.2,37 42.8,37.3 44.8,37.2 46,35.8 45.5,34 47.5,31 48.5,30 47.7,30 46.5,29.1 44.7,29.2 42,31.1'],
  ['Syria', '36,32.4 39,32 41,34.4 41.2,37 36.7,36.8 35.8,36 35.8,34.6 36.5,34.6 36,33.4'],
  ['Lebanon', '35.1,33.1 36,33.4 36.5,34.6 35.8,34.6'],
  ['Jordan', '35,29.5 36,29.2 37.5,30 39,32 36,32.4 35.5,32.4'],
  ['Israel', '34.3,31.3 35,29.5 35.5,32.4 35.6,33.2 35.1,33.1'],
  ['Turkey', '26,40.5 26.3,41.7 28,42 31,41.2 35,42 38,41 41.6,41.5 43.5,41 44.8,39.7 44.8,37.2 42.8,37.3 41.2,37 36.7,36.8 35.8,36 36,36.8 33,36.1 30.5,36.5 27.5,37 26.5,39'],
  ['Cyprus', '32.3,35.1 34.5,35.6 33.5,34.8'],
  ['Iran', '44.8,39.7 46.5,39 48,39.6 49,37.6 53.8,37.3 56,38 61.2,35.6 60.5,33.5 61.5,31.5 61,29.5 63,27.2 61.6,25.1 57,25.7 54.5,26.7 51,28 48.9,30.4 48.5,30 47.5,31 45.5,34 46,35.8 44.8,37.2'],
  ['Georgia', '40,43.5 43.5,42.6 46.5,41.8 45,41.2 43.5,41 41.6,41.5'],
  ['Armenia', '43.5,41 45,41.2 46.5,39 44.8,39.7'],
  ['Azerbaijan', '45,41.2 46.5,41.8 48.5,41.8 50.3,40.3 49,37.6 48,39.6 46.5,39']
];

// Robinson table, d3 core does not ship this projection
const robLat = d3.range(0, 95, 5);
const robLen = [1, .9986, .9954, .99, .9822, .973, .96, .9427, .9216, .8962, .8679, .835, .7986, .7597, .7186, .6732, .6213, .5722, .5322];
const robHgt = [0, .062, .124, .186, .248, .31, .372, .434, .4958, .5571, .6176, .6769, .7346, .7903, .8435, .8936, .9394, .9761, 1];
const lenScale = d3.scaleLinear().domain(robLat).range(robLen);
const hgtScale = d3.scaleLinear().domain(robLat).range(robHgt);

function robinsonRaw(lambda, phi) {
  const deg = Math.abs(phi) * 180 / Math.PI;
  return [0.84 * lenScale(deg) * lambda, 1.3523 * hgtScale(deg) * (phi < 0 ? -1 : 1)];
}

const width = 850, height = 600;
const projection = d3.geoProjection(robinsonRaw).scale(156.8).translate([363.3, 337]).precision(0);

// planar path: straight segments between projected vertices
const path = d3.geoPath(d3.geoTransform({
  point(x, y) {
    const p = projection([x, y]);
    this.stream.point(p[0], p[1]);
  }
}));

const scoreByName = new Map(countryScores);
const color = d3.scaleThreshold().domain(binEdges).range(binColors);

const features = countryOutlines.map(([name, ...rings]) => ({
  type: 'Feature',
  properties: { name, score: scoreByName.get(name) },
  geometry: {
    type: 'MultiPolygon',
    coordinates: rings.map(r => {
      const pts = r.split(' ').map(s => s.split(',').map(Number));
      pts.push(pts[0]);
      return [pts];
    })
  }
}));

const svg = d3.select('#chart').append('svg').attr('width', width).attr('height', height);

const pattern = svg.append('defs').append('pattern')
  .attr('id', 'nodata')
  .attr('patternUnits', 'userSpaceOnUse')
  .attr('width', 5.5).attr('height', 5.5)
  .attr('patternTransform', 'rotate(45)');
pattern.append('rect').attr('width', 5.5).attr('height', 5.5).attr('fill', '#fff');
pattern.append('rect').attr('width', 3).attr('height', 5.5).attr('fill', '#e9e9e9');

// title
svg.append('g').selectAll('text').data(titleLines).enter().append('text')
  .attr('x', 16).attr('y', (d, i) => 64 + i * 18.4)
  .attr('font-size', 15).attr('fill', '#5b5b5b')
  .text(d => d);

// logo
const logo = svg.append('g');
logo.append('rect').attr('x', 770).attr('y', 16).attr('width', 64).attr('height', 36).attr('fill', '#002147');
logo.append('rect').attr('x', 770).attr('y', 50).attr('width', 64).attr('height', 2.5).attr('fill', '#ce261e');
logo.selectAll('text').data(['Our World', 'in Data']).enter().append('text')
  .attr('x', 802).attr('y', (d, i) => 31 + i * 12)
  .attr('text-anchor', 'middle').attr('font-size', 11.5).attr('font-weight', 700).attr('fill', '#fff')
  .text(d => d);

// map: no data first so coloured borders sit on top
const noData = features.filter(d => d.properties.score === undefined);
const withData = features.filter(d => d.properties.score !== undefined);

svg.append('g').selectAll('path').data(noData).enter().append('path')
  .attr('d', path)
  .attr('fill', 'url(#nodata)')
  .attr('stroke', '#d2d2d2')
  .attr('stroke-width', 0.6)
  .attr('stroke-linejoin', 'round');

svg.append('g').selectAll('path').data(withData).enter().append('path')
  .attr('d', path)
  .attr('fill', d => color(d.properties.score))
  .attr('stroke', '#666')
  .attr('stroke-opacity', 0.55)
  .attr('stroke-width', 0.5)
  .attr('stroke-linejoin', 'round');

// legend
const legendX = d3.scaleLinear().domain([0, 1]).range([312.5, 605]);
const legendY = 536.5, legendH = 11.5;
const legend = svg.append('g');

legend.append('rect').attr('x', 245).attr('y', legendY).attr('width', 47.5).attr('height', legendH)
  .attr('fill', 'url(#nodata)').attr('stroke', '#ccc').attr('stroke-width', 0.5);
legend.append('line').attr('x1', 268.7).attr('x2', 268.7).attr('y1', 532).attr('y2', legendY)
  .attr('stroke', '#bbb').attr('stroke-width', 0.5);
legend.append('text').attr('x', 268.7).attr('y', 530).attr('text-anchor', 'middle')
  .attr('font-size', 13).attr('fill', '#5b5b5b').text('No data');

const bins = d3.pairs(legendTicks);
legend.selectAll('rect.bin').data(bins).enter().append('rect')
  .attr('class', 'bin')
  .attr('x', d => legendX(d[0])).attr('y', legendY)
  .attr('width', d => legendX(d[1]) - legendX(d[0])).attr('height', legendH)
  .attr('fill', d => color((d[0] + d[1]) / 2))
  .attr('stroke', '#888').attr('stroke-width', 0.4);
legend.selectAll('line.tick').data(legendTicks).enter().append('line')
  .attr('class', 'tick')
  .attr('x1', d => legendX(d)).attr('x2', d => legendX(d))
  .attr('y1', 532).attr('y2', legendY)
  .attr('stroke', '#bbb').attr('stroke-width', 0.5);
legend.selectAll('text.tick').data(legendTicks).enter().append('text')
  .attr('class', 'tick')
  .attr('x', d => legendX(d)).attr('y', 530)
  .attr('text-anchor', 'middle').attr('font-size', 13).attr('fill', '#5b5b5b')
  .text(d => d);

// footer
const source = svg.append('text').attr('x', 16).attr('y', 581).attr('font-size', 13).attr('fill', '#5b5b5b');
source.append('tspan').attr('font-weight', 700).text('Data source:');
source.append('tspan').text(' UN Office for Disaster Risk Reduction');
svg.append('text').attr('x', 832).attr('y', 581).attr('text-anchor', 'end')
  .attr('font-size', 13).attr('fill', '#5b5b5b')
  .text('OurWorldinData.org/natural-disasters | CC BY');
</script>
</body>
</html>
